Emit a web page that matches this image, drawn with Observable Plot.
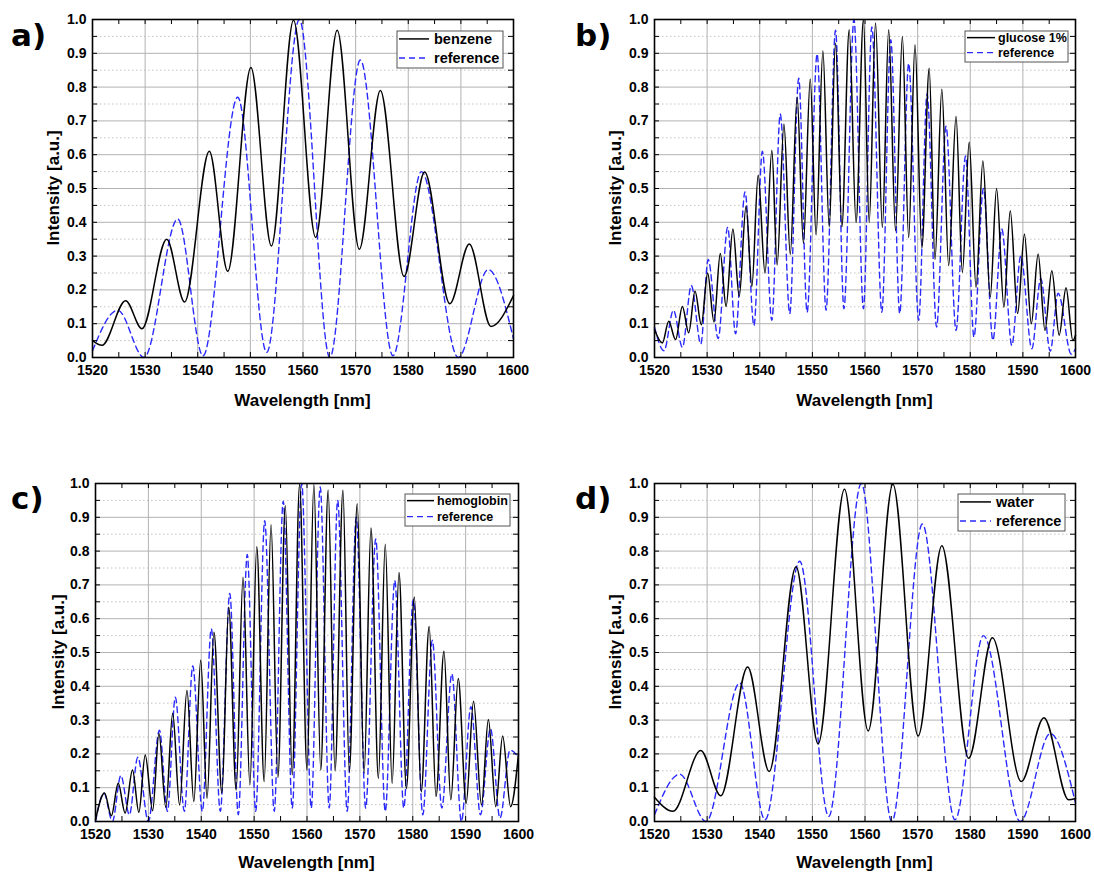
<!DOCTYPE html>
<html><head><meta charset="utf-8">
<script src="https://cdn.jsdelivr.net/npm/d3@7"></script>
<script src="https://cdn.jsdelivr.net/npm/@observablehq/plot@0.6"></script>
<style>
body{margin:0;background:#fff;}
#root{position:relative;width:1094px;height:875px;overflow:hidden;background:#fff;}
.panel{position:absolute;}
</style></head><body><div id="root"></div>
<script>
// ---- data: [wavelength nm, intensity a.u.] at the read-off extrema ----
const aBenzene = [[1520,0.05],[1521.8,0.036],[1526.3,0.168],[1529.4,0.085],[1534.1,0.35],[1537.5,0.164],[1542.2,0.61],[1545.7,0.255],[1550.1,0.858],[1554.0,0.33],[1558.2,0.998],[1562.4,0.355],[1566.5,0.968],[1570.7,0.32],[1574.7,0.79],[1579.2,0.24],[1583.1,0.549],[1587.9,0.159],[1591.6,0.336],[1595.7,0.092],[1600,0.183]];
const refAD = [[1520,0.02],[1524.8,0.14],[1529.8,0.0],[1536.2,0.41],[1541.0,0.005],[1547.6,0.77],[1553.1,0.015],[1559.3,1.0],[1565.1,0.0],[1570.9,0.88],[1577.1,0.005],[1582.5,0.55],[1589.5,0.0],[1595.2,0.26],[1600,0.055]];
const dWater = [[1520,0.072],[1523.5,0.03],[1528.8,0.21],[1532.6,0.076],[1537.7,0.457],[1541.8,0.148],[1546.9,0.754],[1551.1,0.23],[1556.1,0.983],[1560.6,0.268],[1565.3,0.998],[1570.1,0.253],[1574.6,0.816],[1579.7,0.187],[1584.2,0.544],[1589.7,0.118],[1594.0,0.307],[1598.7,0.064],[1600,0.068]];
const bGlucose = [[1520,0.083],[1521.5,0.043],[1522.7,0.107],[1524.0,0.053],[1525.3,0.151],[1526.5,0.073],[1527.7,0.196],[1528.9,0.097],[1530.1,0.25],[1531.3,0.105],[1532.5,0.308],[1533.6,0.151],[1534.9,0.38],[1536.1,0.181],[1537.4,0.448],[1538.5,0.21],[1539.7,0.54],[1541.0,0.25],[1542.3,0.613],[1543.3,0.274],[1544.6,0.69],[1545.8,0.305],[1547.1,0.77],[1548.3,0.338],[1549.6,0.824],[1550.7,0.363],[1552.0,0.907],[1553.2,0.387],[1554.4,0.93],[1555.6,0.387],[1557.0,0.97],[1558.3,0.40],[1559.7,1.0],[1560.8,0.40],[1562.0,0.99],[1563.3,0.385],[1564.5,0.97],[1565.8,0.375],[1567.1,0.95],[1568.3,0.355],[1569.5,0.925],[1570.8,0.325],[1572.2,0.856],[1573.3,0.29],[1574.6,0.794],[1575.9,0.272],[1577.3,0.713],[1578.5,0.252],[1579.8,0.637],[1581.1,0.208],[1582.4,0.581],[1583.8,0.179],[1585.0,0.5],[1586.4,0.149],[1587.6,0.434],[1589.0,0.13],[1590.3,0.365],[1591.6,0.1],[1592.9,0.306],[1594.2,0.08],[1595.5,0.257],[1596.9,0.066],[1598.2,0.206],[1599.5,0.05],[1600,0.066]];
const bRef = [[1520,0.09],[1521.8,0.02],[1523.6,0.14],[1525.3,0.03],[1527.0,0.213],[1528.8,0.04],[1530.2,0.29],[1532.1,0.056],[1533.9,0.385],[1535.4,0.07],[1537.2,0.49],[1538.9,0.095],[1540.5,0.61],[1542.3,0.11],[1543.9,0.72],[1545.7,0.13],[1547.4,0.826],[1549.0,0.134],[1550.9,0.898],[1552.6,0.14],[1554.4,0.968],[1556.0,0.144],[1557.9,1.0],[1559.7,0.144],[1561.3,0.978],[1563.2,0.134],[1564.9,0.94],[1566.6,0.13],[1568.3,0.87],[1570.2,0.11],[1571.8,0.78],[1573.6,0.09],[1575.4,0.684],[1577.3,0.08],[1579.1,0.596],[1580.7,0.061],[1582.5,0.5],[1584.3,0.051],[1586.0,0.38],[1587.9,0.036],[1589.6,0.3],[1591.7,0.026],[1593.4,0.233],[1595.2,0.019],[1596.7,0.19],[1599.2,0.01],[1600,0.026]];
const cHemo = [[1520,0.005],[1521.7,0.084],[1523.0,0.017],[1524.3,0.113],[1525.6,0.025],[1527.0,0.152],[1528.2,0.027],[1529.4,0.197],[1530.8,0.032],[1532.0,0.26],[1533.3,0.042],[1534.6,0.32],[1535.9,0.049],[1537.3,0.388],[1538.6,0.059],[1539.9,0.477],[1541.1,0.069],[1542.4,0.56],[1543.9,0.084],[1545.2,0.634],[1546.6,0.093],[1547.9,0.723],[1549.2,0.108],[1550.5,0.813],[1551.9,0.118],[1553.2,0.878],[1554.5,0.131],[1555.9,0.934],[1557.2,0.138],[1558.6,0.998],[1560.0,0.152],[1561.3,0.998],[1562.6,0.152],[1564.0,0.98],[1565.3,0.15],[1566.8,0.98],[1568.0,0.147],[1569.5,0.94],[1570.8,0.143],[1572.1,0.868],[1573.5,0.128],[1574.8,0.82],[1576.1,0.113],[1577.4,0.737],[1578.8,0.098],[1580.3,0.664],[1581.6,0.088],[1583.1,0.577],[1584.4,0.074],[1585.9,0.504],[1587.2,0.064],[1588.6,0.423],[1590.1,0.054],[1591.5,0.356],[1593.0,0.049],[1594.3,0.302],[1595.7,0.044],[1597.0,0.253],[1598.5,0.044],[1600,0.2]];
const cRef = [[1520,0.0],[1521.6,0.084],[1523.2,0.0],[1524.8,0.136],[1526.4,0.02],[1528.0,0.19],[1530.0,0.0],[1532.1,0.27],[1533.6,0.03],[1535.1,0.368],[1536.8,0.03],[1538.4,0.46],[1540.2,0.03],[1541.9,0.57],[1543.6,0.03],[1545.4,0.675],[1547.0,0.02],[1548.7,0.79],[1550.3,0.03],[1552.0,0.89],[1553.8,0.03],[1555.5,0.948],[1557.2,0.04],[1559.0,1.0],[1560.8,0.04],[1562.5,0.99],[1564.2,0.04],[1565.8,0.95],[1567.6,0.03],[1569.3,0.9],[1571.1,0.04],[1573.0,0.836],[1574.8,0.03],[1576.6,0.713],[1578.3,0.04],[1580.1,0.656],[1581.9,0.02],[1583.7,0.536],[1585.5,0.04],[1587.4,0.437],[1589.2,0.0],[1591.0,0.34],[1592.8,0.02],[1594.7,0.275],[1596.5,0.01],[1598.4,0.211],[1600,0.19]];

const panelTags = ["a)", "b)", "c)", "d)"];
const sampleNames = ["benzene", "glucose 1%", "hemoglobin", "water"];
const refName = "reference";
const xTitle = "Wavelength [nm]";
const yTitle = "Intensity [a.u.]";
const xMajor = d3.range(1520, 1601, 10);
const xAll = d3.range(1520, 1601, 5);
const yMajor = d3.range(0, 11).map(i => i / 10);
const yMinor = d3.range(0, 10).map(i => (2 * i + 1) / 20);
const yAll = d3.range(0, 21).map(i => i / 20);

const FONT = "'Liberation Sans', Arial, Helvetica, sans-serif";
const BLUE = "#2a2aff";

function panel(cfg) {
  const {left, top, width, height, mL, mR, mT, mB} = cfg;
  const pw = width - mL - mR, ph = height - mT - mB;
  const toObj = arr => arr.map(([x, y]) => ({x, y}));
  const svg = Plot.plot({
    width, height, marginLeft: mL, marginRight: mR, marginTop: mT, marginBottom: mB,
    style: {fontFamily: FONT, fontSize: "14px", fontWeight: "bold", color: "#000", background: "white", overflow: "visible"},
    x: {domain: [1520, 1600]},
    y: {domain: [0, 1]},
    marks: [
      Plot.ruleY(yMinor, {y: d => d, stroke: "#c4c4c4", strokeDasharray: "1.5,2.5", strokeWidth: 1}),
      Plot.ruleY(yMajor, {y: d => d, stroke: "#b2b2b2", strokeWidth: 1}),
      Plot.ruleX(xMajor, {x: d => d, stroke: "#b2b2b2", strokeWidth: 1}),
      Plot.line(toObj(cfg.ref), {x: "x", y: "y", curve: "monotone-x", stroke: BLUE, strokeWidth: 1.4, strokeDasharray: "6,4"}),
      Plot.line(toObj(cfg.sample), {x: "x", y: "y", curve: "monotone-x", stroke: "#000", strokeWidth: 1.5}),
      Plot.tickX(xAll, {x: d => d, insetTop: ph - 5, stroke: "#000"}),
      Plot.tickX(xAll, {x: d => d, insetBottom: ph - 5, stroke: "#000"}),
      Plot.tickY(yAll, {y: d => d, insetRight: pw - 5, stroke: "#000"}),
      Plot.tickY(yAll, {y: d => d, insetLeft: pw - 5, stroke: "#000"}),
      Plot.frame({stroke: "#000", strokeWidth: 1.6}),
      Plot.axisX(xMajor, {tickSize: 0, tickPadding: 8, tickFormat: d3.format("d"), label: null, fontSize: 14, fontWeight: "bold"}),
      Plot.axisY(yMajor, {tickSize: 0, tickPadding: 6, tickFormat: d3.format(".1f"), label: null, fontSize: 14, fontWeight: "bold"})
    ]
  });
  const s = d3.select(svg);
  s.append("text").attr("x", mL + pw / 2).attr("y", cfg.xTitleY)
    .attr("text-anchor", "middle").style("font-size", "17px").style("font-family", FONT).style("font-weight", "bold").text(xTitle);
  s.append("text").attr("transform", `translate(${cfg.yTitleX},${mT + ph / 2}) rotate(-90)`)
    .attr("text-anchor", "middle").attr("dy", "0.35em").style("font-size", "17px").style("font-family", FONT).style("font-weight", "bold").text(yTitle);
  s.append("text").attr("x", cfg.tagX).attr("y", cfg.tagY).attr("text-anchor", "start")
    .style("font-size", "31px").style("font-family", "'DejaVu Sans', sans-serif").style("font-weight", "bold").text(cfg.tag);
  const L = cfg.legend;
  const g = s.append("g");
  g.append("rect").attr("x", L.x).attr("y", L.y).attr("width", L.w).attr("height", L.h)
    .attr("fill", "white").attr("stroke", "#555").attr("stroke-width", 1);
  [[cfg.name, "#000", null, 1.5], [refName, BLUE, "6,4", 1.4]].forEach(([label, col, dash, sw], i) => {
    const by = L.b[i];
    g.append("line").attr("x1", L.x + 2).attr("x2", L.lx2).attr("y1", by - L.fs * 0.35).attr("y2", by - L.fs * 0.35)
      .attr("stroke", col).attr("stroke-width", sw).attr("stroke-dasharray", dash);
    g.append("text").attr("x", L.tx).attr("y", by).attr("text-anchor", "start")
      .style("font-size", L.fs + "px").style("font-family", FONT).style("font-weight", "bold").text(label);
  });
  const div = document.createElement("div");
  div.className = "panel";
  div.style.left = left + "px";
  div.style.top = top + "px";
  div.appendChild(svg);
  document.getElementById("root").appendChild(div);
}

panel({left: 0, top: 0, width: 547, height: 440, mL: 92, mR: 34, mT: 19, mB: 83,
  sample: aBenzene, ref: refAD, name: sampleNames[0], tag: panelTags[0], tagX: 11, tagY: 46,
  xTitleY: 406, yTitleX: 53,
  legend: {x: 397, y: 31, w: 106, h: 37, lx2: 429, tx: 434, b: [44, 63], fs: 14.5}});
panel({left: 547, top: 0, width: 547, height: 440, mL: 107, mR: 19, mT: 19, mB: 83,
  sample: bGlucose, ref: bRef, name: sampleNames[1], tag: panelTags[1], tagX: 28, tagY: 46,
  xTitleY: 406, yTitleX: 68,
  legend: {x: 418, y: 31, w: 103, h: 31, lx2: 448, tx: 451, b: [42, 57], fs: 12.5}});
panel({left: 0, top: 440, width: 547, height: 435, mL: 95, mR: 29, mT: 43, mB: 54,
  sample: cHemo, ref: cRef, name: sampleNames[2], tag: panelTags[2], tagX: 11, tagY: 69,
  xTitleY: 428, yTitleX: 58,
  legend: {x: 405, y: 54, w: 105, h: 32, lx2: 434, tx: 437, b: [65, 81], fs: 12.5}});
panel({left: 547, top: 440, width: 547, height: 435, mL: 107, mR: 19, mT: 43, mB: 54,
  sample: dWater, ref: refAD, name: sampleNames[3], tag: panelTags[3], tagX: 28, tagY: 69,
  xTitleY: 428, yTitleX: 68,
  legend: {x: 411, y: 54, w: 107, h: 37, lx2: 444, tx: 449, b: [67, 86], fs: 14.5}});
</script></body></html>
